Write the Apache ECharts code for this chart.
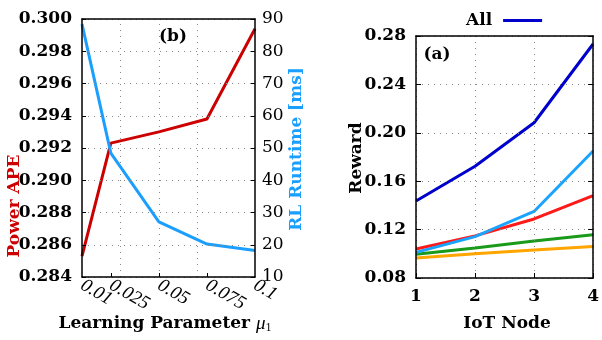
<!DOCTYPE html>
<html>
<head>
<meta charset="utf-8">
<script src="https://cdn.jsdelivr.net/npm/echarts@6/dist/echarts.min.js"></script>
<style>html,body{margin:0;padding:0;background:#fff}#c{width:602px;height:340px}</style>
</head>
<body>
<div id="c"></div>
<script>
// ---- Left chart (b) data ----
const muValues = [0.01, 0.025, 0.05, 0.075, 0.1];
const muLabels = ['0.01', '0.025', '0.05', '0.075', '0.1'];
const muGridValues = [0.025, 0.05, 0.075];
const powerAPE = [0.2853, 0.2923, 0.2930, 0.2938, 0.2994];
const rlRuntime = [88.4, 48.4, 27.1, 20.2, 18.2];

// ---- Right chart (a) data ----
const iotNodes = [1, 2, 3, 4];
const rewardAll = [0.1436, 0.1724, 0.2083, 0.2734];
const rewardLightBlue = [0.1012, 0.1142, 0.1350, 0.1850];
const rewardRed = [0.1040, 0.1148, 0.1288, 0.1480];
const rewardGreen = [0.0996, 0.1047, 0.1106, 0.1157];
const rewardOrange = [0.0966, 0.1000, 0.1031, 0.1060];

const F = 'DejaVu Serif';
const dotted = { color: '#888', width: 1, type: [1, 5] };
const pairs = (xs, ys) => xs.map((x, i) => [x, ys[i]]);
const solidAxis = { show: true, lineStyle: { color: '#000', width: 1.5 } };
const muFormatter = v => { let best = 0; muValues.forEach((m, i) => { if (Math.abs(m - v) < Math.abs(muValues[best] - v)) best = i; }); return muLabels[best]; };
const muLabelStyle = { rotate: -30, margin: 7, fontFamily: 'Liberation Serif', fontStyle: 'italic', fontSize: 19, color: '#000', formatter: muFormatter, hideOverlap: false };

const chart = echarts.init(document.getElementById('c'), null, { renderer: 'canvas' });
chart.setOption({
  animation: false,
  backgroundColor: '#fff',
  grid: [
    { left: 82, right: 347, top: 19, bottom: 63 },
    { left: 416, right: 3, top: 36, bottom: 62 }
  ],
  legend: {
    data: [{ name: 'All', icon: 'rect' }],
    left: 461, top: 7, itemWidth: 39, itemHeight: 3, align: 'right', selectedMode: false,
    textStyle: { fontFamily: F, fontWeight: 'bold', fontSize: 17, color: '#000', padding: [0, 6, 0, 0] }
  },
  xAxis: [
    {
      gridIndex: 0, type: 'value', min: 0.01, max: 0.1, position: 'bottom', z: 5,
      axisLine: solidAxis,
      axisTick: { show: true, inside: true, length: 4, customValues: muGridValues, lineStyle: { color: '#000' } },
      axisLabel: Object.assign({ customValues: muValues.slice(1), showMaxLabel: true }, muLabelStyle),
      splitLine: { show: false }
    },
    {
      gridIndex: 1, type: 'value', min: 1, max: 4, interval: 1, position: 'bottom', z: 5,
      axisLine: solidAxis,
      axisTick: { show: true, inside: true, length: 5, lineStyle: { color: '#000' } },
      axisLabel: { fontFamily: F, fontWeight: 'bold', fontSize: 17, color: '#000', margin: 10 },
      splitLine: { show: true, lineStyle: dotted }
    },
    {
      gridIndex: 0, type: 'value', min: 0.01, max: 0.1, position: 'top', z: 5,
      axisLine: solidAxis, axisTick: { show: false }, axisLabel: { show: false }, splitLine: { show: false }
    },
    {
      gridIndex: 1, type: 'value', min: 1, max: 4, position: 'top', z: 5,
      axisLine: solidAxis, axisTick: { show: false }, axisLabel: { show: false }, splitLine: { show: false }
    },
    {
      gridIndex: 0, type: 'value', min: 0.01, max: 0.1, position: 'bottom', z: 5,
      axisLine: { show: false }, axisTick: { show: false }, splitLine: { show: false },
      axisLabel: Object.assign({ customValues: muValues.slice(0, 1), showMinLabel: true }, muLabelStyle)
    }
  ],
  yAxis: [
    {
      gridIndex: 0, type: 'value', min: 0.284, max: 0.3, interval: 0.002, position: 'left', z: 5,
      axisLine: solidAxis,
      axisTick: { show: true, inside: true, length: 4, lineStyle: { color: '#000' } },
      axisLabel: { fontFamily: F, fontWeight: 'bold', fontSize: 17, color: '#000', margin: 10, formatter: v => v.toFixed(3) },
      splitLine: { show: true, lineStyle: dotted }
    },
    {
      gridIndex: 0, type: 'value', min: 10, max: 90, interval: 10, position: 'right', z: 5,
      axisLine: solidAxis,
      axisTick: { show: true, inside: true, length: 4, lineStyle: { color: '#000' } },
      axisLabel: { fontFamily: F, fontSize: 17, color: '#000', margin: 7 },
      splitLine: { show: false }
    },
    {
      gridIndex: 1, type: 'value', min: 0.08, max: 0.28, interval: 0.04, position: 'left', z: 5,
      axisLine: solidAxis,
      axisTick: { show: true, inside: true, length: 5, lineStyle: { color: '#000' } },
      axisLabel: { fontFamily: F, fontWeight: 'bold', fontSize: 17, color: '#000', margin: 10, formatter: v => v.toFixed(2) },
      splitLine: { show: true, lineStyle: dotted }
    },
    {
      gridIndex: 1, type: 'value', min: 0.08, max: 0.28, interval: 0.04, position: 'right', z: 5,
      axisLine: solidAxis,
      axisTick: { show: true, inside: true, length: 5, lineStyle: { color: '#000' } },
      axisLabel: { show: false },
      splitLine: { show: false }
    }
  ],
  series: [
    {
      name: 'Power APE', type: 'line', xAxisIndex: 0, yAxisIndex: 0, symbol: 'none',
      data: pairs(muValues, powerAPE), lineStyle: { color: '#cc0000', width: 3 }, itemStyle: { color: '#cc0000' },
      markLine: {
        silent: true, symbol: 'none', label: { show: false }, lineStyle: dotted, z: 0,
        data: muGridValues.map(v => ({ xAxis: v }))
      }
    },
    {
      name: 'RL Runtime', type: 'line', xAxisIndex: 0, yAxisIndex: 1, symbol: 'none',
      data: pairs(muValues, rlRuntime), lineStyle: { color: '#1a9fff', width: 3 }, itemStyle: { color: '#1a9fff' }
    },
    {
      name: 'Orange', type: 'line', xAxisIndex: 1, yAxisIndex: 2, symbol: 'none',
      data: pairs(iotNodes, rewardOrange), lineStyle: { color: '#ffa500', width: 3 }, itemStyle: { color: '#ffa500' }
    },
    {
      name: 'Green', type: 'line', xAxisIndex: 1, yAxisIndex: 2, symbol: 'none',
      data: pairs(iotNodes, rewardGreen), lineStyle: { color: '#1a9a1a', width: 3 }, itemStyle: { color: '#1a9a1a' }
    },
    {
      name: 'Red', type: 'line', xAxisIndex: 1, yAxisIndex: 2, symbol: 'none',
      data: pairs(iotNodes, rewardRed), lineStyle: { color: '#ff1a1a', width: 3 }, itemStyle: { color: '#ff1a1a' }
    },
    {
      name: 'LightBlue', type: 'line', xAxisIndex: 1, yAxisIndex: 2, symbol: 'none',
      data: pairs(iotNodes, rewardLightBlue), lineStyle: { color: '#1aa3ff', width: 3 }, itemStyle: { color: '#1aa3ff' }
    },
    {
      name: 'All', type: 'line', xAxisIndex: 1, yAxisIndex: 2, symbol: 'none',
      data: pairs(iotNodes, rewardAll), lineStyle: { color: '#0000cc', width: 3 }, itemStyle: { color: '#0000cc' }
    }
  ],
  graphic: [
    { type: 'text', x: 173, y: 37, style: { text: '(b)', fontFamily: F, fontWeight: 'bold', fontSize: 17, fill: '#000', align: 'center', verticalAlign: 'middle' } },
    { type: 'text', x: 437, y: 55, style: { text: '(a)', fontFamily: F, fontWeight: 'bold', fontSize: 17, fill: '#000', align: 'center', verticalAlign: 'middle' } },
    { type: 'text', x: 15, y: 206, rotation: Math.PI / 2, style: { text: 'Power APE', fontFamily: F, fontWeight: 'bold', fontSize: 17, fill: '#cc0000', align: 'center', verticalAlign: 'middle' } },
    { type: 'text', x: 297, y: 149, rotation: Math.PI / 2, style: { text: 'RL Runtime [ms]', fontFamily: F, fontWeight: 'bold', fontSize: 17, fill: '#1a9fff', align: 'center', verticalAlign: 'middle' } },
    { type: 'text', x: 357, y: 158, rotation: Math.PI / 2, style: { text: 'Reward', fontFamily: F, fontWeight: 'bold', fontSize: 17, fill: '#000', align: 'center', verticalAlign: 'middle' } },
    { type: 'text', x: 507, y: 324, style: { text: 'IoT Node', fontFamily: F, fontWeight: 'bold', fontSize: 17, fill: '#000', align: 'center', verticalAlign: 'middle' } },
    { type: 'text', x: 165, y: 324, style: {
        text: '{b|Learning Parameter }{mu|μ}{sub|1}', align: 'center', verticalAlign: 'middle',
        rich: {
          b: { fontFamily: F, fontWeight: 'bold', fontSize: 17, fill: '#000', color: '#000' },
          mu: { fontFamily: 'Liberation Serif', fontStyle: 'italic', fontSize: 19, fill: '#000', color: '#000' },
          sub: { fontFamily: 'Liberation Serif', fontSize: 12, fill: '#000', color: '#000', verticalAlign: 'bottom', padding: [8, 0, 0, 0] }
        }
    } }
  ]
});
</script>
</body>
</html>
